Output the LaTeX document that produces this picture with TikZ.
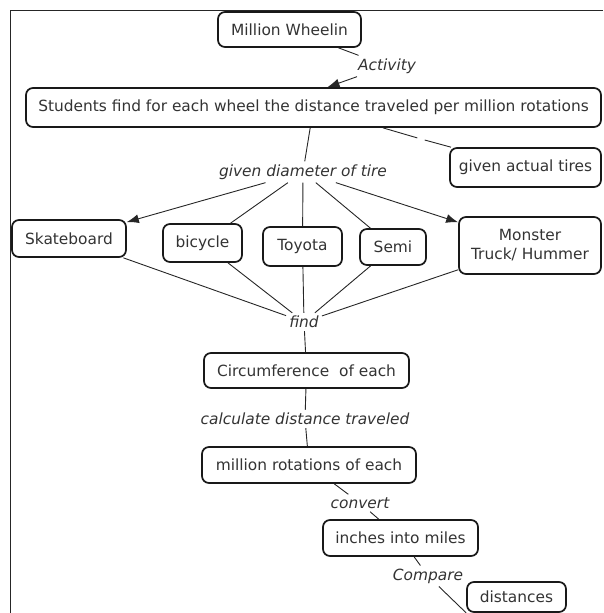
\documentclass[tikz,border=0pt]{standalone}
\usepackage{fontspec}
\setmainfont{DejaVu Sans}
\usetikzlibrary{arrows.meta}

\begin{document}
\begin{tikzpicture}[x=1pt, y=-1pt,
   concept/.style={draw=black!90, line width=1.7pt, rounded corners=7pt, inner sep=0pt,
     minimum height=36pt, text=black!80, font=\fontsize{15.4}{19}\selectfont},
   phrase/.style={inner sep=3pt, text=black!80, font=\fontsize{15.4}{19}\selectfont\itshape},
   link/.style={draw=black!85, line width=0.9pt},
   arrow/.style={link, -{Latex[length=12pt,width=9pt]}}]
   \useasboundingbox (0,0) rectangle (603,613);
   \draw[black!85, line width=0.9pt] (10,613) -- (10,10) -- (603,10);
   \node[concept, minimum width=143pt, minimum height=35pt] (wheelin) at (289.5,29.5) {Million Wheelin};
   \node[phrase] (activity) at (387,66) {Activity};
   \node[concept, minimum width=575pt, minimum height=39pt] (students) at (313.5,107.5)
     {Students find for each wheel the distance traveled per million rotations};
   \node[inner sep=0pt, minimum size=7pt] (nophrase) at (421,139) {};
   \node[concept, minimum width=151pt, minimum height=39pt] (tires) at (525.5,167.5) {given actual tires};
   \node[phrase] (diameter) at (303,172) {given diameter of tire};
   \node[concept, minimum width=114pt, minimum height=37pt] (skateboard) at (69,238.5) {Skateboard};
   \node[concept, minimum width=79pt, minimum height=38pt] (bicycle) at (202.5,243) {bicycle};
   \node[concept, minimum width=79pt, minimum height=39pt] (toyota) at (302.5,246.5) {Toyota};
   \node[concept, minimum width=66pt] (semi) at (393,247) {Semi};
   \node[concept, minimum width=142pt, minimum height=57pt, align=center] (monster) at (530,245.5)
     {Monster\\Truck/ Hummer};
   \node[phrase] (find) at (304,322) {find};
   \node[concept, minimum width=205pt, minimum height=35pt] (circumference) at (306.5,370.5) {Circumference\ \ of each};
   \node[phrase] (calculate) at (305,419) {calculate distance traveled};
   \node[concept, minimum width=214pt] (rotations) at (309,465) {million rotations of each};
   \node[phrase] (convert) at (360,503) {convert};
   \node[concept, minimum width=155pt] (inches) at (400.5,538) {inches into miles};
   \node[phrase] (compare) at (428,576) {Compare};
   \node[concept, minimum width=99pt, minimum height=30pt] (distances) at (516.5,597) {distances};
   \draw[link] (wheelin) -- (activity);
   \draw[arrow] (activity) -- ([xshift=14pt]students.north);
   \draw[link] (students) -- (nophrase);
   \draw[link] (nophrase) -- (tires);
   \draw[link] (students) -- (diameter);
   \draw[arrow] (diameter) -- (skateboard);
   \draw[link] (diameter) -- (bicycle);
   \draw[link] (diameter) -- (toyota);
   \draw[link] (diameter) -- (semi);
   \draw[arrow] (diameter) -- (monster);
   \draw[link] (skateboard) -- (find);
   \draw[link] (bicycle) -- (find);
   \draw[link] (toyota) -- (find);
   \draw[link] (semi) -- (find);
   \draw[link] (monster) -- (find);
   \draw[link] (find) -- (circumference);
   \draw[link] (circumference) -- (calculate);
   \draw[link] (calculate) -- (rotations);
   \draw[link] (rotations) -- (convert);
   \draw[link] (convert) -- (inches);
   \draw[link] (inches) -- (compare);
   \draw[link] (compare) -- (distances.south west);
\end{tikzpicture}
\end{document}
